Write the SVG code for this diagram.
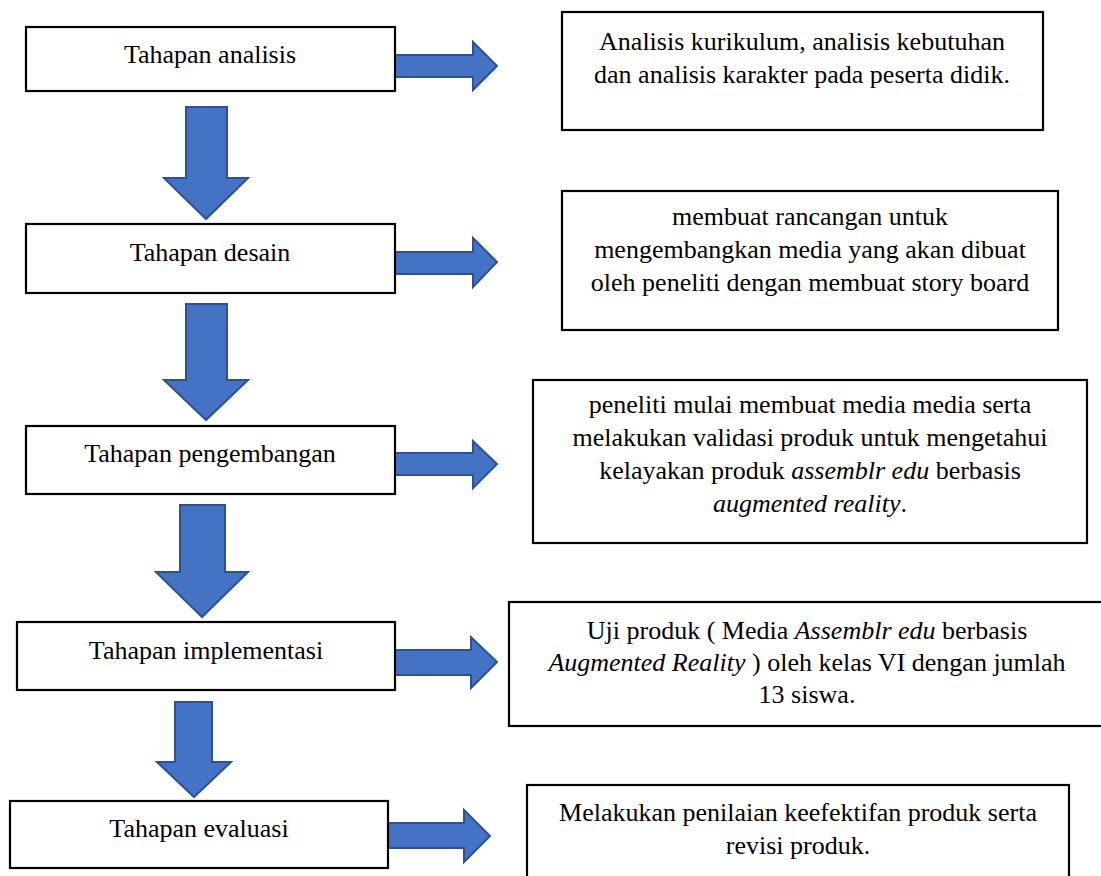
<svg xmlns="http://www.w3.org/2000/svg" width="1101" height="876" viewBox="0 0 1101 876">
<style>
.box{fill:#fff;stroke:#000;stroke-width:2.2}
.arr{fill:#4472C4;stroke:#2F528F;stroke-width:2;stroke-linejoin:miter}
.t{font-family:"Liberation Serif","Times New Roman",serif;font-size:26px;fill:#000;text-anchor:middle}
.i{font-style:italic}
</style>
<rect width="1101" height="876" fill="#fff"/>
<g id="connectors">
<polygon class="arr" points="395,55 473,55 473,42 497,66 473,90 473,77 395,77"/>
<polygon class="arr" points="395,252 473,252 473,238 497,262 473,287 473,274 395,274"/>
<polygon class="arr" points="395,453 473,453 473,441 497,464 473,488 473,475 395,475"/>
<polygon class="arr" points="395,650 471,650 471,637 497,662 471,688 471,675 395,675"/>
<polygon class="arr" points="388,823 464,823 464,810 490,836 464,862 464,848 388,848"/>
<polygon class="arr" points="186,107 227,107 227,178 248,178 206,219 164,178 186,178"/>
<polygon class="arr" points="186,304 227,304 227,380 248,380 206,420 164,380 186,380"/>
<polygon class="arr" points="180,505 225,505 225,572 248,572 202,617 156,572 180,572"/>
<polygon class="arr" points="175,702 212,702 212,762 231,762 194,797 157,762 175,762"/>
</g>
<g id="node-analisis">
<rect class="box" x="26" y="27" width="369" height="64"/>
<text class="t" x="210" y="63">Tahapan analisis</text>
</g>
<g id="node-desain">
<rect class="box" x="26" y="224" width="369" height="69"/>
<text class="t" x="210" y="261">Tahapan desain</text>
</g>
<g id="node-pengembangan">
<rect class="box" x="26" y="426" width="369" height="68"/>
<text class="t" x="210" y="462">Tahapan pengembangan</text>
</g>
<g id="node-implementasi">
<rect class="box" x="17" y="622" width="378" height="68"/>
<text class="t" x="206" y="659">Tahapan implementasi</text>
</g>
<g id="node-evaluasi">
<rect class="box" x="10" y="801" width="378" height="67"/>
<text class="t" x="199" y="837">Tahapan evaluasi</text>
</g>
<g id="desc-analisis">
<rect class="box" x="562" y="12" width="481" height="118"/>
<text class="t" x="802" y="50">Analisis kurikulum, analisis kebutuhan</text>
<text class="t" x="802" y="83">dan analisis karakter pada peserta didik.</text>
</g>
<g id="desc-desain">
<rect class="box" x="562" y="191" width="496" height="139"/>
<text class="t" x="810" y="225">membuat rancangan untuk</text>
<text class="t" x="810" y="258">mengembangkan media yang akan dibuat</text>
<text class="t" x="810" y="291">oleh peneliti dengan membuat story board</text>
</g>
<g id="desc-pengembangan">
<rect class="box" x="533" y="380" width="554" height="163"/>
<text class="t" x="810" y="413">peneliti mulai membuat media media serta</text>
<text class="t" x="810" y="446">melakukan validasi produk untuk mengetahui</text>
<text class="t" x="810" y="479">kelayakan produk <tspan class="i">assemblr edu</tspan> berbasis</text>
<text class="t" x="810" y="512"><tspan class="i">augmented reality</tspan>.</text>
</g>
<g id="desc-implementasi">
<rect class="box" x="509" y="602" width="596" height="124"/>
<text class="t" x="807" y="639">Uji produk ( Media <tspan class="i">Assemblr edu</tspan> berbasis</text>
<text class="t" x="807" y="671"><tspan class="i">Augmented Reality</tspan> ) oleh kelas VI dengan jumlah</text>
<text class="t" x="807" y="703">13 siswa.</text>
</g>
<g id="desc-evaluasi">
<rect class="box" x="527" y="785" width="542" height="96"/>
<text class="t" x="798" y="821">Melakukan penilaian keefektifan produk serta</text>
<text class="t" x="798" y="854">revisi produk.</text>
</g>
</svg>
